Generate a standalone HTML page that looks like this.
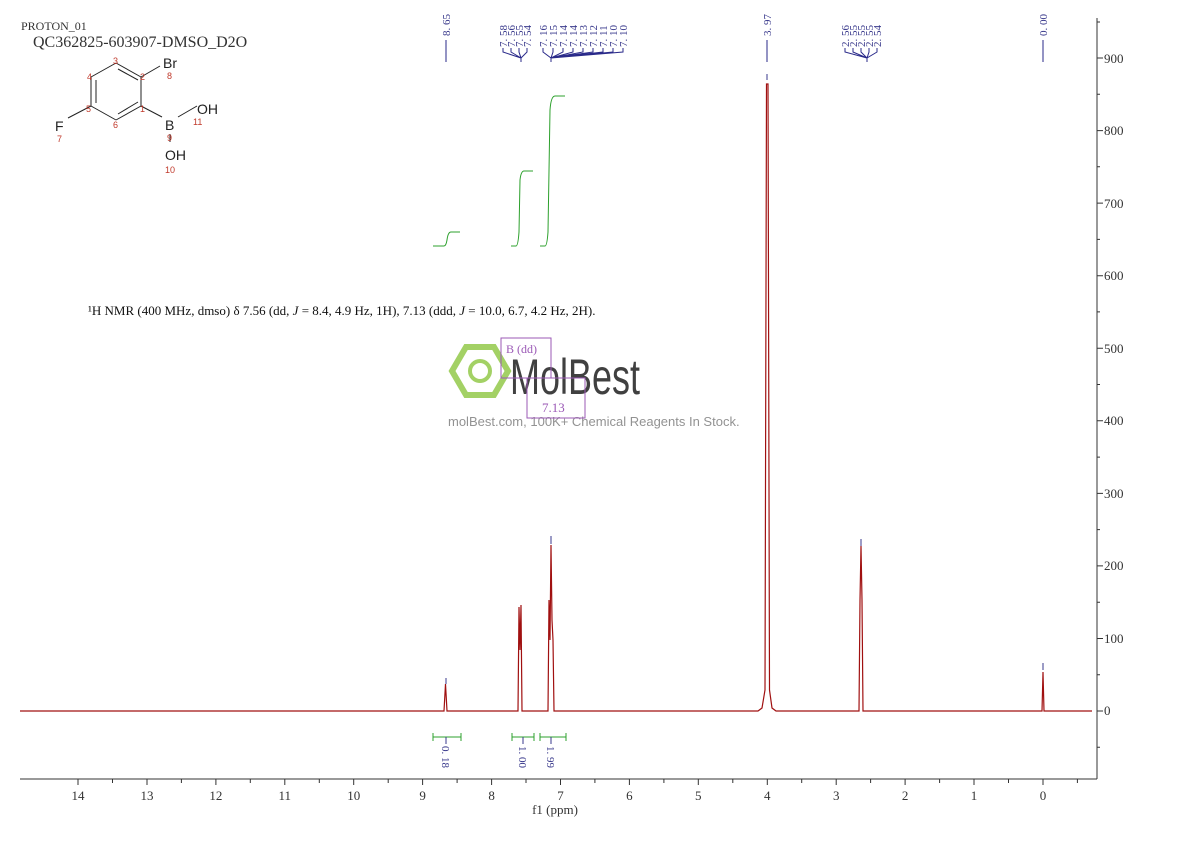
<!DOCTYPE html>
<html><head><meta charset="utf-8"><style>
html,body{margin:0;padding:0;background:#fff;}
svg{display:block;}
text{font-family:"Liberation Serif","Noto Serif CJK SC",serif;}
.s{font-family:"Liberation Sans",sans-serif;}
</style></head><body>
<svg width="1190" height="841" viewBox="0 0 1190 841" xmlns="http://www.w3.org/2000/svg">
<text x="21" y="30" font-size="12" fill="#333">PROTON_01</text>
<text x="33" y="47" font-size="16" fill="#333">QC362825-603907-DMSO_D2O</text>
<g stroke="#222" stroke-width="1" fill="none">
<line x1="116" y1="63" x2="141" y2="77"/><line x1="118" y1="69" x2="138" y2="80"/>
<line x1="141" y1="77" x2="141" y2="106"/>
<line x1="141" y1="106" x2="116" y2="120"/><line x1="138" y1="102" x2="118" y2="114"/>
<line x1="116" y1="120" x2="91" y2="106"/>
<line x1="91" y1="106" x2="91" y2="77"/><line x1="96" y1="103" x2="96" y2="80"/>
<line x1="91" y1="77" x2="116" y2="63"/>
<line x1="141" y1="77" x2="160" y2="66"/>
<line x1="141" y1="106" x2="162" y2="117"/>
<line x1="178" y1="117" x2="197" y2="106"/>
<line x1="91" y1="106" x2="68" y2="118"/>
<line x1="170" y1="134" x2="170" y2="142"/>
</g>
<g font-size="14" fill="#222">
<text class="s" x="163" y="68">Br</text>
<text class="s" x="165" y="130">B</text>
<text class="s" x="197" y="114">OH</text>
<text class="s" x="165" y="160">OH</text>
<text class="s" x="55" y="131">F</text>
</g>
<g font-size="9" fill="#c0392b">
<text class="s" x="113" y="64">3</text>
<text class="s" x="140" y="80">2</text>
<text class="s" x="87" y="80">4</text>
<text class="s" x="86" y="112">5</text>
<text class="s" x="113" y="128">6</text>
<text class="s" x="140" y="112">1</text>
<text class="s" x="167" y="79">8</text>
<text class="s" x="193" y="125">11</text>
<text class="s" x="167" y="141">9</text>
<text class="s" x="165" y="173">10</text>
<text class="s" x="57" y="142">7</text>
</g>
<text x="88" y="315" font-size="13" fill="#111">¹H NMR (400 MHz, dmso) δ 7.56 (dd, <tspan font-style="italic">J</tspan> = 8.4, 4.9 Hz, 1H), 7.13 (ddd, <tspan font-style="italic">J</tspan> = 10.0, 6.7, 4.2 Hz, 2H).</text>
<g opacity="0.8">
<polygon points="466,347 494,347 508,371 494,395 466,395 452,371" fill="none" stroke="#8dc63f" stroke-width="6"/>
<circle cx="480" cy="371" r="10" fill="none" stroke="#8dc63f" stroke-width="4"/>
<text class="s" x="0" y="0" font-size="50" fill="#111" transform="translate(510,394) scale(0.72,1)">MolBest</text>
<text class="s" x="448" y="426" font-size="13" fill="#777">molBest.com, 100K+ Chemical Reagents In Stock.</text>
</g>
<rect x="501" y="338" width="50" height="40" fill="none" stroke="#9b59b6" stroke-width="1"/>
<rect x="527" y="378" width="58" height="40" fill="none" stroke="#9b59b6" stroke-width="1"/>
<text x="506" y="353" font-size="12" fill="#9b59b6">B (dd)</text>
<text x="542" y="412" font-size="13" fill="#9b59b6">7.13</text>
<g stroke="#2ca02c" fill="none" stroke-width="1">
<path d="M433,246 L444,246 Q446,246 447,240 Q448,232 451,232 L460,232"/>
<path d="M511,246 L516,246 Q518,246 519,232 L520,180 Q521,171 524,171 L533,171"/>
<path d="M540,246 L545,246 Q547,246 548,232 L550,110 Q551,96 555,96 L565,96"/>
</g>
<g stroke="#2a2a8a" stroke-width="1" fill="none">
<line x1="446" y1="40" x2="446" y2="62"/>
<line x1="767" y1="40" x2="767" y2="62"/>
<line x1="1043" y1="40" x2="1043" y2="62"/>
<path d="M503,48 L503,52 L521,58 M511,48 L511,52 L521,58 M527,48 L527,52 L521,58 M519,48 L519,52 L521,58 L521,62"/>
<path d="M543,48 L543,52 L551,58 M553,48 L553,52 L551,58 M563,48 L563,52 L551,58 M573,48 L573,52 L551,58 M583,48 L583,52 L551,58 M593,48 L593,52 L551,58 M603,48 L603,52 L551,58 M613,48 L613,52 L551,58 M623,48 L623,52 L551,58 L551,62"/>
<path d="M845,48 L845,52 L867,58 M853,48 L853,52 L867,58 M861,48 L861,52 L867,58 M869,48 L869,52 L867,58 M877,48 L877,52 L867,58 L867,62"/>
</g>
<g fill="#3a3a8c" font-size="11">
<text transform="translate(450,36) rotate(-90)">8. 65</text>
<text transform="translate(507,47) rotate(-90)">7. 58</text>
<text transform="translate(515,47) rotate(-90)">7. 56</text>
<text transform="translate(523,47) rotate(-90)">7. 55</text>
<text transform="translate(531,47) rotate(-90)">7. 54</text>
<text transform="translate(547,47) rotate(-90)">7. 16</text>
<text transform="translate(557,47) rotate(-90)">7. 15</text>
<text transform="translate(567,47) rotate(-90)">7. 14</text>
<text transform="translate(577,47) rotate(-90)">7. 14</text>
<text transform="translate(587,47) rotate(-90)">7. 13</text>
<text transform="translate(597,47) rotate(-90)">7. 12</text>
<text transform="translate(607,47) rotate(-90)">7. 11</text>
<text transform="translate(617,47) rotate(-90)">7. 10</text>
<text transform="translate(627,47) rotate(-90)">7. 10</text>
<text transform="translate(771,36) rotate(-90)">3. 97</text>
<text transform="translate(849,47) rotate(-90)">2. 56</text>
<text transform="translate(857,47) rotate(-90)">2. 55</text>
<text transform="translate(865,47) rotate(-90)">2. 55</text>
<text transform="translate(873,47) rotate(-90)">2. 55</text>
<text transform="translate(881,47) rotate(-90)">2. 54</text>
<text transform="translate(1047,36) rotate(-90)">0. 00</text>
</g>
<g stroke="#3a3a8c" stroke-width="1">
<line x1="446" y1="678" x2="446" y2="684"/>
<line x1="767" y1="74" x2="767" y2="80"/>
<line x1="551" y1="536" x2="551" y2="544"/>
<line x1="861" y1="539" x2="861" y2="546"/>
<line x1="1043" y1="663" x2="1043" y2="670"/>
</g>
<path fill="none" stroke="#a01010" stroke-width="1.2" d="M20,711 L444,711 L445.5,684 L447,711 L518,711 L519,607 L520,650 L521,605 L522,711 L548,711 L549,600 L550,640 L551,545 L552,620 L553,640 L554,711 L758,711 L762,708 L765,690 L766.5,84 L768,84 L769.5,690 L772,708 L776,711 L859,711 L860,600 L861,546 L862,600 L863,711 L1042,711 L1043,672 L1044,711 L1092,711"/>
<g stroke="#2ca02c" stroke-width="1" fill="none">
<path d="M433,737 L461,737 M433,733 L433,741 M461,733 L461,741"/>
<path d="M512,737 L534,737 M512,733 L512,741 M534,733 L534,741"/>
<path d="M540,737 L566,737 M540,733 L540,741 M566,733 L566,741"/>
</g>
<g stroke="#3a3a8c"><line x1="446" y1="737" x2="446" y2="744"/><line x1="523" y1="737" x2="523" y2="744"/><line x1="551" y1="737" x2="551" y2="744"/></g>
<g fill="#3a3a8c" font-size="11">
<text transform="translate(442,746) rotate(90)">0. 18</text>
<text transform="translate(519,746) rotate(90)">1. 00</text>
<text transform="translate(547,746) rotate(90)">1. 99</text>
</g>
<g stroke="#333" stroke-width="1" fill="none">
<line x1="20" y1="779" x2="1097" y2="779"/>
<line x1="1097" y1="18" x2="1097" y2="779"/>
<path d="M78,779v6M112.5,779v4M147,779v6M181.4,779v4M215.9,779v6M250.3,779v4M284.8,779v6M319.3,779v4M353.7,779v6M388.2,779v4M422.6,779v6M457.1,779v4M491.6,779v6M526,779v4M560.5,779v6M594.9,779v4M629.4,779v6M663.9,779v4M698.3,779v6M732.8,779v4M767.3,779v6M801.7,779v4M836.2,779v6M870.6,779v4M905.1,779v6M939.6,779v4M974,779v6M1008.5,779v4M1043,779v6M1077.4,779v4"/>
<path d="M1097,58h6M1097,130.6h6M1097,203.1h6M1097,275.7h6M1097,348.2h6M1097,420.8h6M1097,493.4h6M1097,565.9h6M1097,638.5h6M1097,711h6M1097,22h3M1097,94.3h3M1097,166.8h3M1097,239.4h3M1097,311.9h3M1097,384.5h3M1097,457.1h3M1097,529.6h3M1097,602.2h3M1097,674.7h3M1097,747.3h3"/>
</g>
<g font-size="13" fill="#333" text-anchor="middle">
<text x="78" y="800">14</text><text x="147" y="800">13</text><text x="215.9" y="800">12</text><text x="284.8" y="800">11</text><text x="353.7" y="800">10</text><text x="422.6" y="800">9</text><text x="491.6" y="800">8</text><text x="560.5" y="800">7</text><text x="629.4" y="800">6</text><text x="698.3" y="800">5</text><text x="767.3" y="800">4</text><text x="836.2" y="800">3</text><text x="905.1" y="800">2</text><text x="974" y="800">1</text><text x="1043" y="800">0</text>
<text x="555" y="814">f1 (ppm)</text>
</g>
<g font-size="13" fill="#333">
<text x="1104" y="63">900</text><text x="1104" y="135">800</text><text x="1104" y="208">700</text><text x="1104" y="280">600</text><text x="1104" y="353">500</text><text x="1104" y="425">400</text><text x="1104" y="498">300</text><text x="1104" y="570">200</text><text x="1104" y="643">100</text><text x="1104" y="715">0</text>
</g>
</svg>
</body></html>
